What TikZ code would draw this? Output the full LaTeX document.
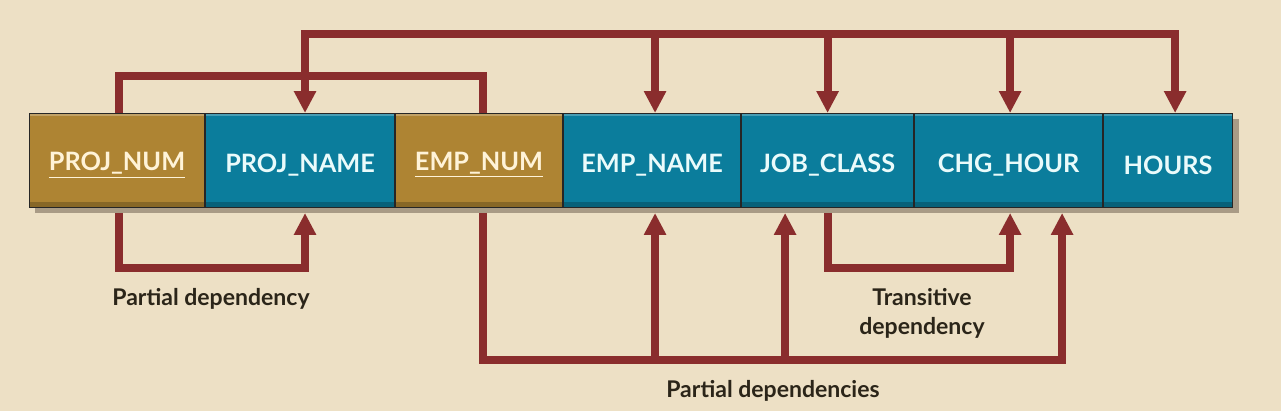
\documentclass[tikz,border=0pt]{standalone}
\usepackage{fontspec}
\setmainfont{Lato}
\usetikzlibrary{arrows.meta,calc}
\definecolor{bg}{HTML}{EDE0C5}
\definecolor{gold}{HTML}{AE8433}
\definecolor{teal}{HTML}{0B7D9C}
\definecolor{goldtext}{HTML}{FFF3D8}
\definecolor{tealtext}{HTML}{EAFBFB}
\definecolor{arr}{HTML}{8A2D2D}
\definecolor{lblc}{HTML}{2B2519}
\definecolor{shadowc}{HTML}{A99B86}
\newcommand{\celltext}[1]{\raisebox{-2.6pt}[\height][\depth]{#1}}
\begin{document}
\begin{tikzpicture}[x=0.02cm,y=-0.02cm,
  cell/.style={draw=black!85,line width=0.6pt,minimum height=1.88cm,anchor=north west,inner sep=0pt,
    font=\fontsize{14.4}{16}\selectfont\bfseries,
    path picture={\fill[black,opacity=0.22] ([yshift=0.12cm]path picture bounding box.south west) rectangle (path picture bounding box.south east);
                  \fill[white,opacity=0.25] ([yshift=-0.05cm]path picture bounding box.north west) rectangle (path picture bounding box.north east);}},
  keybox/.style={cell,fill=gold,text=goldtext},
  attrbox/.style={cell,fill=teal,text=tealtext},
  conn/.style={draw=arr,line width=4.5pt,line join=miter},
  tip/.style={-{Triangle[width=12pt,length=12.5pt]}},
  lbl/.style={text=lblc,font=\fontsize{13.1}{16.4}\selectfont\bfseries}]
\useasboundingbox (0,0) rectangle (1281,411);
\fill[bg] (0,0) rectangle (1281,411);
% shadow
\fill[shadowc] (35,119) rectangle (1239,213);
% boxes
\node[keybox,minimum width=3.50cm] (pn) at (29,113) {\celltext{\underline{PROJ\_NUM}}};
\node[attrbox,minimum width=3.78cm] (pname) at (pn.north east) {\celltext{PROJ\_NAME}};
\node[keybox,minimum width=3.34cm] (en) at (pname.north east) {\celltext{\underline{EMP\_NUM}}};
\node[attrbox,minimum width=3.54cm] (ename) at (en.north east) {\celltext{EMP\_NAME}};
\node[attrbox,minimum width=3.44cm] (jc) at (ename.north east) {\celltext{JOB\_CLASS}};
\node[attrbox,minimum width=3.76cm] (ch) at (jc.north east) {\celltext{CHG\_HOUR}};
\node[attrbox,minimum width=2.58cm] (hr) at (ch.north east) {\celltext{HOURS}};
% x positions of connectors
\coordinate (x1) at ([xshift=0.04cm]pn.north);
\coordinate (x2) at ([xshift=0.10cm]pname.north);
\coordinate (x3) at ([xshift=0.08cm]en.north);
\coordinate (x4) at ([xshift=0.06cm]ename.north);
\coordinate (x5) at (jc.north);
\coordinate (x5b) at ([xshift=-0.85cm]jc.north);
\coordinate (x6) at ([xshift=0.03cm]ch.north);
\coordinate (x6b) at ([xshift=1.07cm]ch.north);
\coordinate (x7) at ([xshift=0.14cm]hr.north);
\coordinate (topy) at (0,34);
\coordinate (midy) at (0,76);
\coordinate (boty) at (0,213);
\coordinate (by1) at (0,268);
\coordinate (by2) at (0,360);
% top connectors
\draw[conn] (x1 |- pn.north) -- (x1 |- midy) -| (x3 |- en.north);
\draw[conn,tip] (x2 |- topy) -| (x7 |- hr.north);
\draw[conn,tip] (x7 |- topy) -| (x2 |- pname.north);
\draw[conn,tip] (x4 |- topy) -- (x4 |- ename.north);
\draw[conn,tip] (x5 |- topy) -- (x5 |- jc.north);
\draw[conn,tip] (x6 |- topy) -- (x6 |- ch.north);
% bottom connectors
\draw[conn,tip] (x1 |- boty) -- (x1 |- by1) -| (x2 |- boty);
\draw[conn,tip] (x5 |- boty) -- (x5 |- by1) -| (x6 |- boty);
\draw[conn,tip] (x3 |- boty) -- (x3 |- by2) -| (x6b |- boty);
\draw[conn,tip] (x4 |- by2) -- (x4 |- boty);
\draw[conn,tip] (x5b |- by2) -- (x5b |- boty);
% labels
\node[lbl] (l1) at (211,299) {Partial dependency};
\node[lbl,align=center] (l2) at (922,313) {Transitive\\dependency};
\node[lbl] (l3) at (773,391) {Partial dependencies};
\end{tikzpicture}
\end{document}
